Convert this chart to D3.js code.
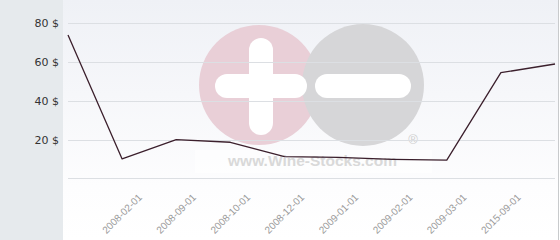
<!DOCTYPE html>
<html>
<head>
<meta charset="utf-8">
<script src="https://cdn.jsdelivr.net/npm/d3@7"></script>
<style>
  html, body { margin: 0; padding: 0; background: #fff; }
  svg { display: block; }
</style>
</head>
<body>
<div class="ChartWrapper"></div>
<script>
// prices per date; first and last points have no label on the axis
const tickLabels = ['', '2008-02-01', '2008-09-01', '2008-10-01', '2008-12-01',
  '2009-01-01', '2009-02-01', '2009-03-01', '2015-09-01', ''];
const prices = [74, 10, 20, 18.6, 11.2, 10.8, 9.8, 9.4, 54.5, 59];
const yTicks = [20, 40, 60, 80];
const gridValues = [0, 20, 40, 60, 80];

const CHART = {
  width: 560,
  height: 240,
  panel: 63,
  left: 68,
  right: 555,
  top: 23.3,
  bottom: 178.3,
  border: 558.5,
};

const svg = d3.select('.ChartWrapper')
  .append('svg')
  .attr('width', CHART.width)
  .attr('height', CHART.height);

const defs = svg.append('defs');
const grad = defs.append('linearGradient')
  .attr('id', 'bg')
  .attr('x1', 0).attr('y1', 0).attr('x2', 0).attr('y2', 1);
grad.append('stop').attr('offset', '0%').attr('stop-color', '#eff1f6');
grad.append('stop').attr('offset', '78%').attr('stop-color', '#fdfdfe');
grad.append('stop').attr('offset', '100%').attr('stop-color', '#ffffff');

// left grey panel
svg.append('rect')
  .attr('x', 0).attr('y', 0)
  .attr('width', CHART.panel).attr('height', CHART.height)
  .attr('fill', '#e6eaed');

// plot background
svg.append('rect')
  .attr('x', CHART.panel).attr('y', 0)
  .attr('width', CHART.border - CHART.panel).attr('height', CHART.height)
  .attr('fill', 'url(#bg)');

svg.append('line')
  .attr('x1', CHART.border).attr('x2', CHART.border)
  .attr('y1', 0).attr('y2', CHART.height)
  .attr('stroke', '#c8cacc')
  .attr('stroke-width', 1);

const x = d3.scaleLinear()
  .domain([0, prices.length - 1])
  .range([CHART.left, CHART.right]);

const y = d3.scaleLinear()
  .domain([0, 80])
  .range([CHART.bottom, CHART.top]);

// watermark
const wm = svg.append('g').classed('Watermark', true);
wm.append('circle')
  .attr('cx', 259).attr('cy', 85).attr('r', 60)
  .attr('fill', '#e9cfd7');
wm.append('circle')
  .attr('cx', 363).attr('cy', 85).attr('r', 61)
  .attr('fill', '#d6d6d8');
wm.append('rect')
  .attr('x', 215).attr('y', 74).attr('width', 92).attr('height', 24).attr('rx', 12)
  .attr('fill', '#fff');
wm.append('rect')
  .attr('x', 249).attr('y', 38).attr('width', 24).attr('height', 97).attr('rx', 12)
  .attr('fill', '#fff');
wm.append('rect')
  .attr('x', 315).attr('y', 74).attr('width', 96).attr('height', 24).attr('rx', 12)
  .attr('fill', '#fff');
wm.append('rect')
  .attr('x', 195).attr('y', 150).attr('width', 237).attr('height', 23)
  .attr('fill', '#fff').attr('opacity', 0.6);
wm.append('text')
  .attr('x', 312.5).attr('y', 166)
  .attr('text-anchor', 'middle')
  .attr('font-family', 'Liberation Sans, Arial, sans-serif')
  .attr('font-weight', 'bold')
  .attr('font-size', 15.5)
  .attr('fill', '#d9d9d9')
  .text('www.Wine-Stocks.com');
wm.append('text')
  .attr('x', 413).attr('y', 144)
  .attr('text-anchor', 'middle')
  .attr('font-family', 'Liberation Sans, Arial, sans-serif')
  .attr('font-size', 13)
  .attr('fill', '#cfcfcf')
  .text('®');

// grid
svg.append('g')
  .selectAll('line')
  .data(gridValues)
  .enter()
  .append('line')
  .attr('x1', CHART.left).attr('x2', CHART.right)
  .attr('y1', d => Math.round(y(d)) + 0.5)
  .attr('y2', d => Math.round(y(d)) + 0.5)
  .attr('stroke', '#dcdfe3')
  .attr('stroke-width', 1);

// y axis labels
const yAxis = svg.append('g')
  .attr('transform', `translate(${CHART.left - 9}, 0)`)
  .call(d3.axisLeft(y).tickValues(yTicks).tickFormat(d => d + ' $').tickSize(0).tickPadding(0));
yAxis.select('.domain').remove();
yAxis.selectAll('text')
  .attr('font-family', 'DejaVu Sans, sans-serif')
  .attr('font-size', 11)
  .attr('fill', '#333');

// x axis labels, rotated
const xAxis = svg.append('g')
  .attr('transform', 'translate(0, 0)')
  .call(d3.axisBottom(x).tickValues(d3.range(prices.length)).tickFormat(i => tickLabels[i]).tickSize(0));
xAxis.select('.domain').remove();
xAxis.selectAll('text')
  .attr('y', 0).attr('dy', 0)
  .attr('text-anchor', 'end')
  .attr('transform', 'translate(20, 198) rotate(-45)')
  .attr('font-family', 'Liberation Sans, Arial, sans-serif')
  .attr('font-size', 10)
  .attr('fill', '#9a9a9a');

// price line
const line = d3.line()
  .x((d, i) => x(i))
  .y(d => y(d));

svg.append('path')
  .datum(prices)
  .attr('d', line)
  .attr('fill', 'none')
  .attr('stroke', '#3b1f2c')
  .attr('stroke-width', 1.3)
  .attr('stroke-linejoin', 'round');
</script>
</body>
</html>
